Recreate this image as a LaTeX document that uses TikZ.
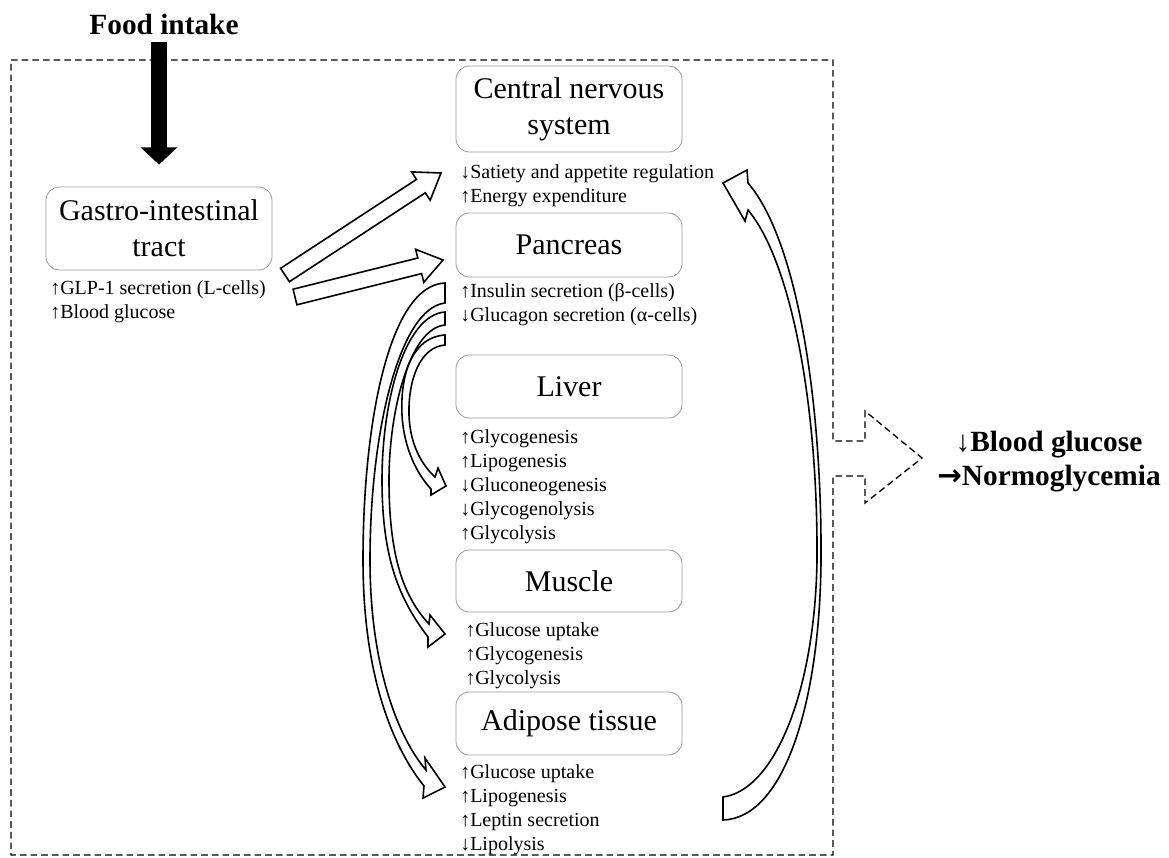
\documentclass[tikz,border=0pt]{standalone}
\usepackage{fontspec}
\setmainfont{Liberation Serif}
\newfontfamily\arrowfont{DejaVu Sans}
\usetikzlibrary{arrows.meta}
\begin{document}
\begin{tikzpicture}[x=0.75pt,y=-0.75pt,
  organ/.style={draw=black!40, line width=0.6pt, rounded corners=10pt, minimum width=169.5pt, align=center, inner sep=2pt, font=\fontsize{22.5}{27}\selectfont},
  effect/.style={anchor=north west, inner sep=0pt, align=left, font=\fontsize{15}{18}\selectfont},
  blockarrow/.style={draw=black, line width=1.2pt, fill=white, line join=miter},
  frame/.style={draw=black, line width=1pt, dash pattern=on 5pt off 3pt},
  bigtext/.style={font=\fontsize{22}{25.5}\selectfont\bfseries, inner sep=0pt}
]
\useasboundingbox (0,0) rectangle (1169,857);

% dashed frame with outgoing arrow
\draw[frame] (11,60) -- (833,60) -- (833,441) -- (865,441) -- (865,411) -- (922,458) -- (865,503) -- (865,476) -- (833,476) -- (833,855) -- (11,855) -- cycle;

% nodes
\node[bigtext, anchor=base] (food) at (164,34) {Food intake};
\node[organ, minimum height=62.25pt] (gi) at (159,228.5) {Gastro-intestinal\\tract};
\node[organ, minimum height=64.5pt] (cns) at (569,109) {Central nervous\\system};
\node[organ, minimum height=48pt] (pan) at (569,245) {Pancreas};
\node[organ, minimum height=47.25pt] (liv) at (569,386.5) {Liver};
\node[organ, minimum height=46.5pt] (mus) at (569,581) {Muscle};
\node[organ, minimum height=47.25pt] (adi) at (569,723.5) {Adipose tissue};

\node[effect] (gitxt) at (50,277) {\strut↑GLP-1 secretion (L-cells)\\↑Blood glucose};
\node[effect] (cnstxt) at (460,161) {\strut↓Satiety and appetite regulation\\↑Energy expenditure};
\node[effect] (pantxt) at (460,280) {\strut↑Insulin secretion (β-cells)\\↓Glucagon secretion (α-cells)};
\node[effect] (livtxt) at (460,426) {\strut↑Glycogenesis\\↑Lipogenesis\\↓Gluconeogenesis\\↓Glycogenolysis\\↑Glycolysis};
\node[effect] (mustxt) at (465,619) {\strut↑Glucose uptake\\↑Glycogenesis\\↑Glycolysis};
\node[effect] (aditxt) at (460,761) {\strut↑Glucose uptake\\↑Lipogenesis\\↑Leptin secretion\\↓Lipolysis};

\node[bigtext, align=center] (res) at (1049,462) {↓Blood glucose\\{\arrowfont\bfseries →}Normoglycemia};

% food intake arrow
\coordinate (fstart) at (159,42);
\coordinate (fend) at ([yshift=16.5pt]gi.north);
\draw[line width=12pt, -{Triangle[width=27pt,length=13pt]}] (fstart) -- (fend);

% straight block arrows from GI tract
\draw[blockarrow] (289.4,281.7) -- (425.3,192.8) -- (430.2,200.3) -- (441,173) -- (411.6,171.9) -- (416.5,179.4) -- (280.6,268.3) -- cycle;
\draw[blockarrow] (296.9,304.8) -- (421.6,273.6) -- (423.8,282.3) -- (443,260) -- (415.6,249.3) -- (417.8,258.0) -- (293.1,289.2) -- cycle;

% curved block arrows from pancreas
\draw[blockarrow] (445,283) .. controls (390,285) and (363,420) .. (363,560)
  .. controls (363,680) and (395,750) .. (424,786)
  -- (423,798) -- (445,787) -- (425,758) -- (426,770)
  .. controls (400,740) and (370,670) .. (370,560)
  .. controls (370,430) and (400,308) .. (445,303) -- cycle;
\draw[blockarrow] (445,312) .. controls (405,315) and (382,400) .. (382,480)
  .. controls (382,560) and (400,600) .. (428,637)
  -- (428,647) -- (445,634) -- (430,615) -- (429,624)
  .. controls (405,598) and (389,560) .. (389,480)
  .. controls (389,410) and (410,328) .. (445,325) -- cycle;
\draw[blockarrow] (445,335) .. controls (412,337) and (400,375) .. (402,415)
  .. controls (404,450) and (418,475) .. (431,489)
  -- (431,495) -- (446,486) -- (438,468) -- (435,477)
  .. controls (422,465) and (410,445) .. (409,415)
  .. controls (408,380) and (420,347) .. (445,345) -- cycle;

% curved block arrow back to CNS
\draw[blockarrow] (723,797) .. controls (775,790) and (815,690) .. (817,560)
  .. controls (818,400) and (790,260) .. (748,210)
  -- (745,221) -- (723,183) -- (747,170) -- (748,183)
  .. controls (797,240) and (822,400) .. (821,560)
  .. controls (820,700) and (785,818) .. (723,820) -- cycle;
\end{tikzpicture}
\end{document}
